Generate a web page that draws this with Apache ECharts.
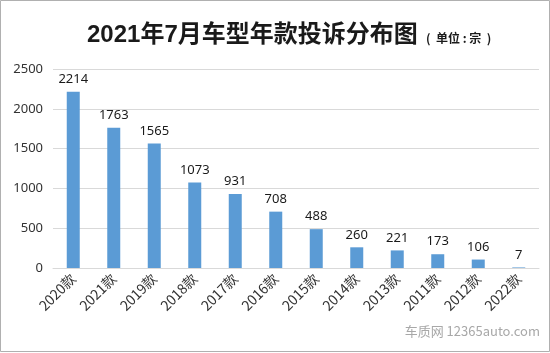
<!DOCTYPE html>
<html>
<head>
<meta charset="utf-8">
<script src="https://cdn.jsdelivr.net/npm/echarts@6/dist/echarts.min.js"></script>
<style>
html, body { margin: 0; padding: 0; background: #fff; }
#main { width: 550px; height: 353px; }
</style>
</head>
<body>
<div id="main"></div>
<script>
var years = ['2020款', '2021款', '2019款', '2018款', '2017款', '2016款', '2015款', '2014款', '2013款', '2011款', '2012款', '2022款'];
var complaints = [2214, 1763, 1565, 1073, 931, 708, 488, 260, 221, 173, 106, 7];

var chart = echarts.init(document.getElementById('main'));
var option = {
    backgroundColor: '#fff',
    animation: false,
    graphic: [
        {
            type: 'rect',
            shape: { x: 0.5, y: 0.5, width: 549, height: 351 },
            style: { fill: 'none', stroke: '#b0b0b0', lineWidth: 1 }
        },
        {
            type: 'text',
            left: 87, top: 23,
            style: {
                text: '2021年7月车型年款投诉分布图',
                font: 'bold 24px "Liberation Sans", "Noto Sans CJK SC", sans-serif',
                fill: '#1a1a1a'
            }
        },
        {
            type: 'text',
            left: 426, top: 32,
            style: {
                text: '(  单位 : 宗  )',
                font: 'bold 12px "Noto Sans CJK SC", sans-serif',
                fill: '#1a1a1a'
            }
        },
        {
            type: 'text',
            right: 10, top: 325,
            style: {
                text: '车质网 12365auto.com',
                font: '13px "Noto Sans CJK SC", sans-serif',
                fill: '#a8a8a8'
            }
        }
    ],
    grid: {
        left: 53,
        right: 11,
        top: 69,
        bottom: 85
    },
    xAxis: {
        type: 'category',
        data: years,
        axisLine: { lineStyle: { color: '#d9d9d9' } },
        axisTick: { show: false },
        axisLabel: {
            rotate: 45,
            interval: 0,
            color: '#333',
            fontSize: 14,
            margin: 8,
            fontFamily: '"Noto Sans CJK SC", sans-serif'
        }
    },
    yAxis: {
        type: 'value',
        min: 0,
        max: 2500,
        interval: 500,
        axisLine: { show: false },
        axisTick: { show: false },
        splitLine: { lineStyle: { color: '#d9d9d9' } },
        axisLabel: {
            color: '#333',
            fontSize: 13,
            margin: 10,
            formatter: function (v) { return String(v); },
            fontFamily: '"Noto Sans", sans-serif'
        }
    },
    series: [
        {
            type: 'bar',
            data: complaints,
            barWidth: 13,
            itemStyle: { color: '#5b9bd5' },
            label: {
                show: true,
                position: 'top',
                distance: 6,
                color: '#1a1a1a',
                fontSize: 13,
                fontFamily: '"Noto Sans", sans-serif'
            }
        }
    ]
};
chart.setOption(option);
</script>
</body>
</html>
